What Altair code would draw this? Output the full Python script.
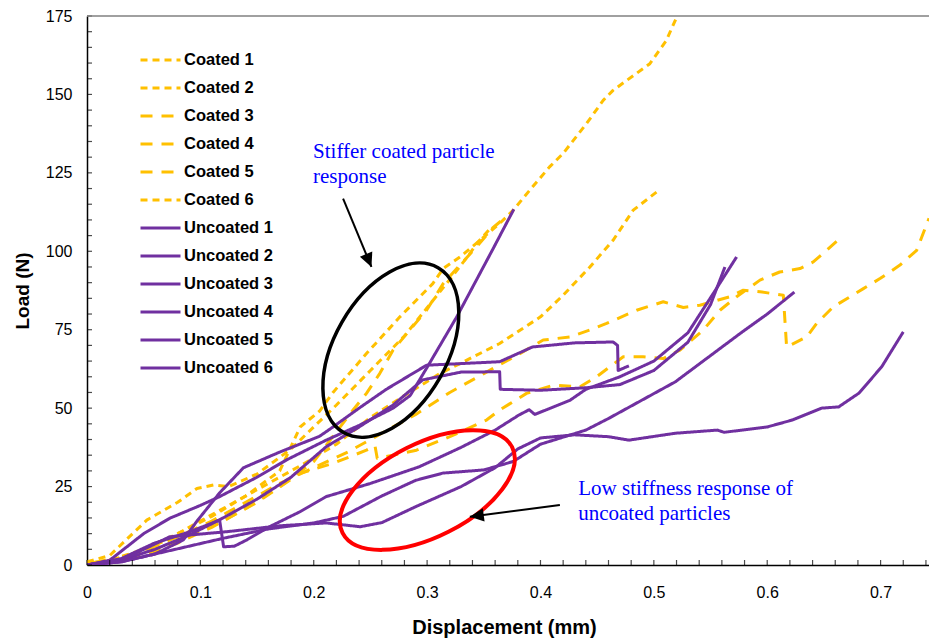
import altair as alt
import pandas as pd

# ---- load / displacement curves (displacement in mm, load in N) ----
c1_x = [0, 0.02, 0.05, 0.08, 0.11, 0.14, 0.17, 0.188, 0.205, 0.217, 0.2465, 0.276, 0.305, 0.3142, 0.329,
        0.3466, 0.364, 0.376, 0.3906, 0.408, 0.42, 0.4406, 0.4553, 0.464, 0.4965, 0.511, 0.5196, 0.524]
c1_y = [0.5, 1.5, 5, 10, 15.5, 22, 30, 44, 49, 55, 67.4, 79.1, 89.7, 94.5, 98.2,
        103.5, 108.9, 113.1, 119.5, 126.9, 131.2, 140.7, 148.1, 151.3, 159.8, 167.2, 174.2, 177]

c2_x = [0, 0.04, 0.07, 0.1, 0.13, 0.16, 0.19, 0.22, 0.25, 0.28, 0.3112, 0.335, 0.364, 0.4, 0.42,
        0.4436, 0.464, 0.4818, 0.5024]
c2_y = [0.5, 3, 8, 14, 20, 26, 32, 38.5, 47, 54, 61, 65.3, 70.6, 79.1, 86, 95, 103.5, 113.1, 118.9]

c3_x = [0, 0.03, 0.06, 0.09, 0.12, 0.15, 0.188, 0.217, 0.2465, 0.254, 0.256, 0.27, 0.2906, 0.32,
        0.3524, 0.364, 0.3877, 0.4112, 0.4347, 0.4495, 0.473, 0.4906, 0.5083, 0.523, 0.5436, 0.5583,
        0.573, 0.5936, 0.611, 0.6289, 0.6406, 0.6524, 0.6657]
c3_y = [0.5, 2, 5, 9, 14, 20, 29.2, 32.4, 36.6, 38, 34, 35, 36.6, 40.9, 46.2, 49.4, 54.7, 57.3, 56.8,
        60, 66.4, 66.4, 65.8, 68.5, 74.9, 81.2, 85.5, 90.8, 93.4, 94.5, 96.6, 100.3, 104.6]

c4_x = [0, 0.02, 0.05, 0.08, 0.11, 0.14, 0.17, 0.2, 0.23, 0.26, 0.29, 0.32, 0.35, 0.38, 0.4024,
        0.4259, 0.4436, 0.4583, 0.4848, 0.5083, 0.526, 0.5406, 0.567, 0.5789, 0.5936, 0.6142, 0.6171,
        0.6348, 0.6436, 0.6583, 0.673, 0.6848, 0.6995, 0.7171, 0.7318, 0.7427]
c4_y = [0.5, 1.5, 4.5, 9, 14, 20, 26, 31, 36, 42, 48, 55, 61, 67, 71.7, 72.7, 74.9, 77, 81.2, 83.9,
        82.1, 82.8, 85.5, 87.6, 87.1, 86, 69.5, 72.7, 77, 82.3, 85.5, 88.1, 91.3, 95.6, 100.3, 110.5]

c5_x = [0, 0.02, 0.05, 0.08, 0.11, 0.14, 0.17, 0.2, 0.2347, 0.2465, 0.2583, 0.27, 0.2847, 0.2995,
        0.3142, 0.33, 0.345, 0.358, 0.368]
c5_y = [0.5, 1, 3, 7, 12, 18, 25, 33, 49.4, 54.7, 61.1, 68.5, 74.9, 81.2, 89.7, 96, 102, 107.5, 110.5]

c6_x = [0, 0.02, 0.0527, 0.08, 0.097, 0.1115, 0.125, 0.15, 0.18, 0.2, 0.22, 0.25, 0.28, 0.3, 0.32,
        0.335, 0.345, 0.355]
c6_y = [1, 3, 14.3, 20, 24.4, 25.5, 25, 29, 37, 44, 51, 62, 73, 82, 91, 98, 103, 107]

u1_x = [0, 0.02, 0.05, 0.073, 0.1, 0.117, 0.15, 0.176, 0.211, 0.24, 0.27, 0.285, 0.3, 0.326, 0.357, 0.3765]
u1_y = [0, 1.5, 10, 14.9, 19, 21.8, 28, 33.5, 39.8, 44.5, 50, 54, 63, 79, 100, 113.4]

u2_x = [0, 0.03, 0.06, 0.09, 0.12, 0.15, 0.18, 0.211, 0.24, 0.27, 0.296, 0.33, 0.364, 0.3645, 0.4,
        0.44, 0.47, 0.5, 0.53, 0.55, 0.5627]
u2_y = [0, 1.5, 5, 9.5, 15, 21, 28, 37.7, 44, 51, 59, 61.5, 61.6, 56, 55.7, 56.5, 57.5, 62, 71, 83, 95]

u3_x = [0, 0.03, 0.059, 0.09, 0.117, 0.1205, 0.13, 0.141, 0.161, 0.188, 0.211, 0.25, 0.293, 0.33,
        0.36, 0.381, 0.39, 0.395, 0.426, 0.44, 0.47, 0.5, 0.53, 0.555, 0.573]
u3_y = [0, 2, 6.9, 10.5, 14.3, 5.8, 6, 8, 12.2, 17, 21.8, 26, 31.3, 37.5, 43, 47.8, 49.5, 48, 52.5,
        56, 60, 65, 74, 88, 98.2]

u4_x = [0, 0.03, 0.06, 0.09, 0.12, 0.16, 0.2, 0.226, 0.26, 0.29, 0.314, 0.35, 0.376, 0.4, 0.44,
        0.46, 0.519, 0.578, 0.6, 0.624]
u4_y = [0, 1, 3.5, 6, 8.5, 11.5, 13.4, 15.5, 22, 27, 29.3, 30.3, 33, 38.5, 43, 46.7, 58.4, 74.3, 80, 87]

u5_x = [0, 0.03, 0.073, 0.123, 0.17, 0.211, 0.241, 0.26, 0.29, 0.33, 0.36, 0.38, 0.4, 0.43, 0.46,
        0.478, 0.519, 0.556, 0.562, 0.6, 0.622, 0.648, 0.663, 0.681, 0.701, 0.72]
u5_y = [0, 1.5, 9, 10.6, 12.5, 13.4, 12.2, 13.5, 18.6, 25, 31, 37, 40.5, 41.5, 40.9, 39.8, 42, 43,
        42.3, 44, 46.2, 50, 50.4, 54.8, 63.2, 74.3]

u6_x = [0, 0.03, 0.06, 0.085, 0.097, 0.117, 0.138, 0.17, 0.205, 0.217, 0.24, 0.264, 0.2996, 0.33,
        0.364, 0.393, 0.43, 0.464, 0.468, 0.4685, 0.478]
u6_y = [0, 1, 3.5, 8, 14, 23, 31, 36, 41, 44, 50, 56, 63.7, 64.2, 64.8, 69.5, 70.8, 71.1, 70, 62, 63.5]

series_names = ["Coated 1", "Coated 2", "Coated 3", "Coated 4", "Coated 5", "Coated 6",
                "Uncoated 1", "Uncoated 2", "Uncoated 3", "Uncoated 4", "Uncoated 5", "Uncoated 6"]
series_xy = [(c1_x, c1_y), (c2_x, c2_y), (c3_x, c3_y), (c4_x, c4_y), (c5_x, c5_y), (c6_x, c6_y),
             (u1_x, u1_y), (u2_x, u2_y), (u3_x, u3_y), (u4_x, u4_y), (u5_x, u5_y), (u6_x, u6_y)]

# annotation text (anchored in data units)
note_text = ["Stiffer coated particle", "response", "Low stiffness response of", "uncoated particles"]
note_x = [0.1994, 0.1994, 0.4333, 0.4333]
note_y = [129.7, 121.7, 22.3, 14.3]

# arrows: tail -> tip
arrow_x = [0.2259, 0.4171]
arrow_y = [116.8, 19.1]
arrow_x2 = [0.2509, 0.3377]
arrow_y2 = [95.0, 15.4]
arrow_angle = [157.5, 262.6]

# highlight ellipses: centre, rotation
ell_x = [0.268, 0.3002]
ell_y = [68.5, 23.9]
ell_angle = [119.8, 153.2]

# axis tick positions
x_ticks = [round(i * 0.1, 1) for i in range(8)]
y_ticks = list(range(0, 176, 25))
x_minor = [round(i * 0.02, 2) for i in range(38)]
y_minor = list(range(0, 176, 5))

# ---- tables ----
rows = []
for name, (xs, ys) in zip(series_names, series_xy):
    for i, (xv, yv) in enumerate(zip(xs, ys)):
        rows.append({"series": name, "disp": xv, "load": yv, "idx": i})
curves = pd.DataFrame(rows)

notes = pd.DataFrame({"x": note_x, "y": note_y, "text": note_text})
arrows = pd.DataFrame({"x": arrow_x, "y": arrow_y, "x2": arrow_x2, "y2": arrow_y2, "angle": arrow_angle})
ellipses = pd.DataFrame({"x": ell_x, "y": ell_y, "angle": ell_angle})
xtick_df = pd.DataFrame({"v": x_minor})
ytick_df = pd.DataFrame({"v": y_minor})

W, H = 842, 549
FONT = "Liberation Sans"
YELLOW, PURPLE = "#FFC000", "#7030A0"
SHORT, LONG, SOLID = [7, 5], [12, 9], [1, 0]

colors = [YELLOW] * 6 + [PURPLE] * 6
dashes = [SHORT, SHORT, LONG, LONG, LONG, SHORT] + [SOLID] * 6

xscale = alt.Scale(domain=[0, 0.7427], nice=False, zero=False)
yscale = alt.Scale(domain=[0, 175], nice=False)

legend = alt.Legend(
    title=None, orient="none", legendX=52, legendY=30, symbolType="stroke", symbolSize=1600,
    symbolStrokeWidth=3, labelFont=FONT, labelFontWeight="bold", labelFontSize=16.5,
    labelColor="black", clipHeight=28, rowPadding=0, labelOffset=2, padding=0,
    labelLimit=300,
)

lines = alt.Chart(curves).mark_line(
    strokeWidth=3, clip=True, strokeJoin="round"
).encode(
    x=alt.X("disp:Q", scale=xscale, axis=alt.Axis(
        orient="bottom", values=x_ticks, format=".1~f", ticks=False, tickSize=0, grid=False,
        domainColor="black", domainWidth=1.5, labelFont=FONT, labelFontSize=16, labelColor="black",
        labelPadding=19, labelFlush=False, title="Displacement (mm)", titleFont=FONT, titleFontSize=20,
        titleFontWeight="bold", titleColor="black", titleBaseline="alphabetic", titleY=68, titleX=417,
        titleAlign="center")),
    y=alt.Y("load:Q", scale=yscale, axis=alt.Axis(
        orient="left", values=y_ticks, ticks=False, tickSize=0, grid=False, domainColor="black",
        domainWidth=1.5, labelFont=FONT, labelFontSize=16, labelColor="black", labelPadding=15,
        title="Load (N)", titleFont=FONT, titleFontSize=19, titleFontWeight="bold",
        titleColor="black", titleX=-65, titleY=H / 2, titleAngle=270, titleBaseline="middle",
        titleAlign="center")),
    color=alt.Color("series:N", scale=alt.Scale(domain=series_names, range=colors), legend=legend),
    strokeDash=alt.StrokeDash("series:N", scale=alt.Scale(domain=series_names, range=dashes), legend=legend),
    detail="series:N",
    order="idx:Q",
)

# inward minor/major ticks along both axes
xticks = alt.Chart(xtick_df).mark_tick(orient="vertical", size=5, thickness=1.2, color="black").encode(
    x=alt.X("v:Q", scale=xscale, axis=None), y=alt.value(H - 2.5)
)
yticks = alt.Chart(ytick_df).mark_tick(orient="horizontal", size=5, thickness=1.2, color="black").encode(
    y=alt.Y("v:Q", scale=yscale, axis=None), x=alt.value(2.5)
)


# unit-square ellipse (Bezier), b = semi-minor / semi-major
def ellipse_path(b, k=0.5523):
    return (f"M1,0 C1,{k*b:.4f} {k:.4f},{b:.4f} 0,{b:.4f} C{-k:.4f},{b:.4f} -1,{k*b:.4f} -1,0 "
            f"C-1,{-k*b:.4f} {-k:.4f},{-b:.4f} 0,{-b:.4f} C{k:.4f},{-b:.4f} 1,{-k*b:.4f} 1,0 Z")


black_ellipse = alt.Chart(ellipses.iloc[[0]]).mark_point(
    shape=ellipse_path(0.593), size=190 ** 2, filled=False, strokeWidth=3.5, color="black", opacity=1
).encode(
    x=alt.X("x:Q", scale=xscale, axis=None),
    y=alt.Y("y:Q", scale=yscale, axis=None),
    angle=alt.Angle("angle:Q", scale=None),
)

red_ellipse = alt.Chart(ellipses.iloc[[1]]).mark_point(
    shape=ellipse_path(0.493), size=190 ** 2, filled=False, strokeWidth=4, color="#FF0000", opacity=1
).encode(
    x=alt.X("x:Q", scale=xscale, axis=None),
    y=alt.Y("y:Q", scale=yscale, axis=None),
    angle=alt.Angle("angle:Q", scale=None),
)

shafts = alt.Chart(arrows).mark_rule(color="black", strokeWidth=2).encode(
    x=alt.X("x:Q", scale=xscale, axis=None),
    y=alt.Y("y:Q", scale=yscale, axis=None),
    x2="x2:Q",
    y2="y2:Q",
)

heads = alt.Chart(arrows).mark_point(
    shape="M0,0 L-0.48,1 L0.48,1 Z", size=780, filled=True, color="black", opacity=1
).encode(
    x=alt.X("x2:Q", scale=xscale, axis=None),
    y=alt.Y("y2:Q", scale=yscale, axis=None),
    angle=alt.Angle("angle:Q", scale=None),
)

labels = alt.Chart(notes).mark_text(
    font="Liberation Serif", fontSize=21, color="#0000FF", align="left", baseline="alphabetic"
).encode(
    x=alt.X("x:Q", scale=xscale, axis=None),
    y=alt.Y("y:Q", scale=yscale, axis=None),
    text="text:N",
)

top_border = alt.Chart(notes.iloc[[0]]).mark_rule(color="#808080", strokeWidth=1.5).encode(
    x=alt.value(0), x2=alt.value(W), y=alt.value(0)
)

chart = alt.layer(
    lines, xticks, yticks, black_ellipse, red_ellipse, shafts, heads, labels, top_border
).resolve_axis(
    x="independent", y="independent"
).properties(
    width=W, height=H,
    padding={"left": 87, "top": 16, "right": 0, "bottom": 76},
    autosize=alt.AutoSizeParams(type="none"),
    background="white",
).configure_view(strokeWidth=0)

chart.save("out.html", embed_options={"renderer": "svg", "actions": False})
